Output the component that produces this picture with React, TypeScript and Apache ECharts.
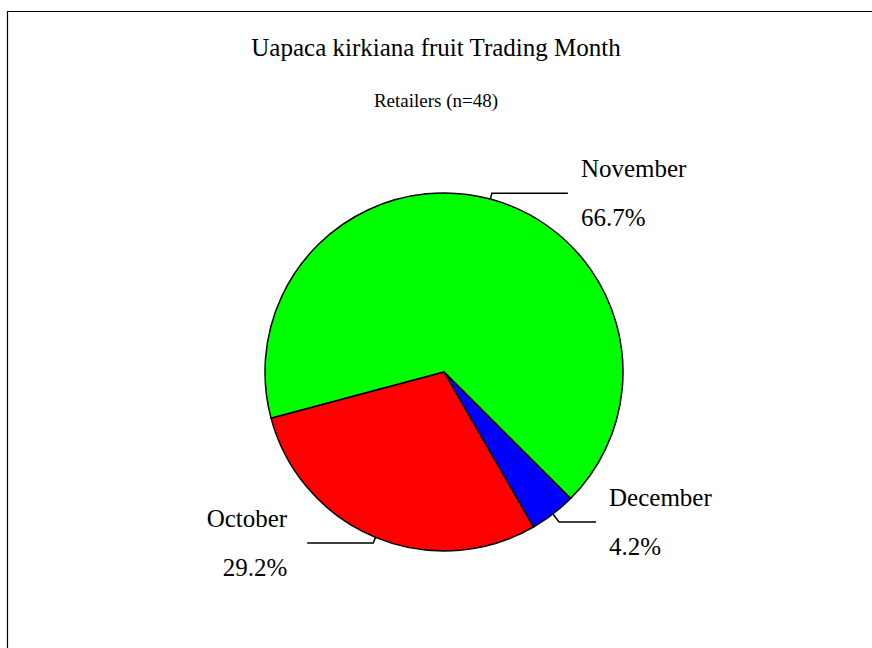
import React, { useEffect, useRef } from 'react';
import * as echarts from 'echarts';

const titleText = 'Uapaca kirkiana fruit Trading Month';
const subtitleText = 'Retailers (n=48)';
const months = ['November', 'December', 'October'];
const counts = [32, 2, 14];
const colors = ['#00ff00', '#0000ff', '#ff0000'];

export default function App() {
  const ref = useRef<HTMLDivElement>(null);
  useEffect(() => {
    const chart = echarts.init(ref.current!, null, { renderer: 'svg' });
    const font = "'Liberation Serif', 'Times New Roman', serif";
    const total = counts.reduce((a, b) => a + b, 0);
    const labelLook: Record<string, { len: number; len2: number; gap: number }> = {
      November: { len: 6, len2: 76, gap: 13 },
      December: { len: 10, len2: 37, gap: 13 },
      October: { len: 6, len2: 66, gap: 20 },
    };
    chart.setOption({
      animation: false,
      backgroundColor: '#ffffff',
      title: [
        {
          text: titleText,
          left: 'center',
          top: 35,
          padding: 0,
          textStyle: { fontFamily: font, fontSize: 25, fontWeight: 'normal', color: '#000' },
        },
        {
          text: subtitleText,
          left: 'center',
          top: 91,
          padding: 0,
          textStyle: { fontFamily: font, fontSize: 19, fontWeight: 'normal', color: '#000' },
        },
      ],
      graphic: [
        {
          type: 'rect',
          silent: true,
          z: -1,
          shape: { x: 7.5, y: 11.5, width: 900, height: 700 },
          style: { fill: 'none', stroke: '#000', lineWidth: 1.2 },
        },
      ],
      series: [
        {
          type: 'pie',
          center: [444, 372],
          radius: 179,
          startAngle: 195,
          clockwise: true,
          avoidLabelOverlap: false,
          emphasis: { disabled: true },
          itemStyle: { borderColor: '#000', borderWidth: 1.5 },
          label: {
            show: true,
            position: 'outside',
            formatter: (p: any) =>
              '{n|' + p.name + '}\n{v|' + ((p.value / total) * 100).toFixed(1) + '%}',
            color: '#000',
            fontFamily: font,
            fontSize: 25,
            rich: {
              n: { fontFamily: font, fontSize: 25, lineHeight: 49, color: '#000' },
              v: { fontFamily: font, fontSize: 25, lineHeight: 49, color: '#000' },
            },
          },
          labelLine: { show: true, smooth: false, lineStyle: { color: '#000', width: 1.5 } },
          data: months.map((m, i) => ({
            name: m,
            value: counts[i],
            itemStyle: { color: colors[i] },
            label: { distanceToLabelLine: labelLook[m].gap },
            labelLine: { length: labelLook[m].len, length2: labelLook[m].len2 },
          })),
        },
      ],
    });
    return () => chart.dispose();
  }, []);
  return <div ref={ref} style={{ position: 'fixed', left: 0, top: 0, width: 872, height: 648 }} />;
}
